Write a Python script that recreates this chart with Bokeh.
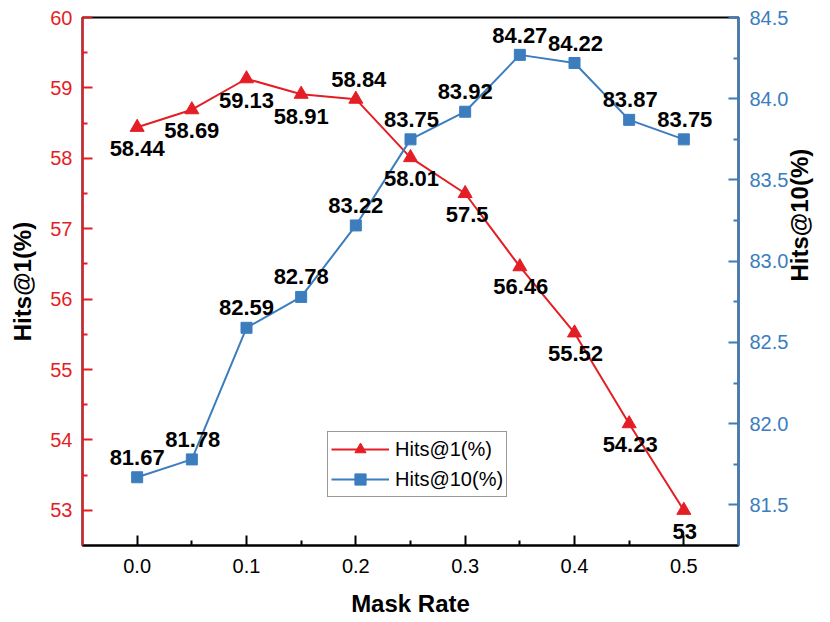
import math
from bokeh.plotting import figure
from bokeh.models import (Range1d, LinearAxis, FixedTicker, PrintfTickFormatter,
                          ColumnDataSource, LabelSet, Legend, LegendItem)
from bokeh.core.properties import value
from bokeh.embed import file_html
from bokeh.resources import INLINE

# ---- data ----
mask_rate = [0.0, 0.05, 0.1, 0.15, 0.2, 0.25, 0.3, 0.35, 0.4, 0.45, 0.5]
hits1 = [58.44, 58.69, 59.13, 58.91, 58.84, 58.01, 57.5, 56.46, 55.52, 54.23, 53]
hits10 = [81.67, 81.78, 82.59, 82.78, 83.22, 83.75, 83.92, 84.27, 84.22, 83.87, 83.75]
hits1_text = ["58.44", "58.69", "59.13", "58.91", "58.84", "58.01", "57.5", "56.46", "55.52", "54.23", "53"]
hits10_text = ["81.67", "81.78", "82.59", "82.78", "83.22", "83.75", "83.92", "84.27", "84.22", "83.87", "83.75"]

x_ticks = [0.0, 0.1, 0.2, 0.3, 0.4, 0.5]
x_minor = [0.05, 0.15, 0.25, 0.35, 0.45]
left_ticks = [53, 54, 55, 56, 57, 58, 59, 60]
left_minor = [53.5, 54.5, 55.5, 56.5, 57.5, 58.5, 59.5]
right_ticks = [81.5, 82.0, 82.5, 83.0, 83.5, 84.0, 84.5]
right_minor = [81.75, 82.25, 82.75, 83.25, 83.75, 84.25]

# label offsets in screen pixels (style, not data)
hits1_dy = [-21, -21, -22, -22, 20, -21, -21, -20, -21, -21, -21]
hits1_dx = [0, 0, 0, 0, 3, 1, 2, 1, 1, 1, 1]
hits10_dy = [20, 20, 20, 20, 20, 20, 20, 19, 19, 20, 20]
hits10_dx = [0, 1, 0, 0, 0, 1, 0, 0, 1, 1, 1]

RED = "#E41E25"
BLUE = "#3C7DBE"
FONT = "Liberation Sans"

p = figure(width=830, height=621,
           x_range=Range1d(-0.05, 0.55), y_range=Range1d(52.5, 60),
           output_backend="svg", toolbar_location=None,
           min_border_left=82, min_border_right=92,
           min_border_top=17, min_border_bottom=76)
p.extra_y_ranges = {"h10": Range1d(81.25, 84.5)}
p.grid.visible = False
p.outline_line_color = "black"
p.outline_line_width = 2
p.background_fill_color = "white"
p.border_fill_color = "white"

p.add_layout(LinearAxis(y_range_name="h10"), "right")


def style_axis(ax, color, ticks, minor, fmt, label, lstand, tstand):
    ax.ticker = FixedTicker(ticks=ticks, minor_ticks=minor)
    ax.formatter = PrintfTickFormatter(format=fmt)
    ax.axis_line_color = color
    ax.axis_line_width = 2
    ax.major_tick_line_color = color
    ax.major_tick_line_width = 2
    ax.minor_tick_line_color = color
    ax.minor_tick_line_width = 2
    ax.major_tick_in = 10
    ax.major_tick_out = 0
    ax.minor_tick_in = 5
    ax.minor_tick_out = 0
    ax.major_label_text_color = color
    ax.major_label_text_font = FONT
    ax.major_label_text_font_size = "20px"
    ax.major_label_standoff = tstand
    ax.axis_label = label
    ax.axis_label_text_font = FONT
    ax.axis_label_text_font_size = "24px"
    ax.axis_label_text_font_style = "bold"
    ax.axis_label_text_color = "black"
    ax.axis_label_standoff = lstand


style_axis(p.xaxis[0], "black", x_ticks, x_minor, "%.1f", "Mask Rate", 14, 13)
style_axis(p.yaxis[0], RED, left_ticks, left_minor, "%d", "Hits@1(%)", 11, 10)
style_axis(p.yaxis[1], BLUE, right_ticks, right_minor, "%.1f", "Hits@10(%)", 8, 11)
p.yaxis[1].axis_label_orientation = math.pi / 2

r1l = p.line(mask_rate, hits1, line_color=RED, line_width=2)
r1m = p.scatter(mask_rate, hits1, marker="triangle", size=14,
                fill_color=RED, line_color=RED)
r10l = p.line(mask_rate, hits10, line_color=BLUE, line_width=2, y_range_name="h10")
r10m = p.scatter(mask_rate, hits10, marker="square", size=11,
                 fill_color=BLUE, line_color=BLUE, y_range_name="h10")

src1 = ColumnDataSource(dict(x=mask_rate, y=hits1, t=hits1_text, dx=hits1_dx, dy=hits1_dy))
src10 = ColumnDataSource(dict(x=mask_rate, y=hits10, t=hits10_text, dx=hits10_dx, dy=hits10_dy))

for src, rn in ((src1, "default"), (src10, "h10")):
    ls = LabelSet(x="x", y="y", text="t", source=src, y_range_name=rn,
                  x_offset="dx", y_offset="dy",
                  text_align="center", text_baseline="middle",
                  text_font=value(FONT), text_font_size=value("22px"),
                  text_font_style="bold", text_color="black")
    p.add_layout(ls)

legend = Legend(items=[LegendItem(label="Hits@1(%)", renderers=[r1l, r1m]),
                       LegendItem(label="Hits@10(%)", renderers=[r10l, r10m])],
                location=(245, 48), glyph_width=58, glyph_height=28,
                label_height=28, spacing=2, padding=3, margin=0,
                label_standoff=6, border_line_color="#333333", border_line_width=1,
                label_text_font=FONT, label_text_font_size="20px",
                label_text_color="black", background_fill_color="white",
                background_fill_alpha=1.0)
p.add_layout(legend)

open("out.html", "w").write(file_html(p, INLINE))
